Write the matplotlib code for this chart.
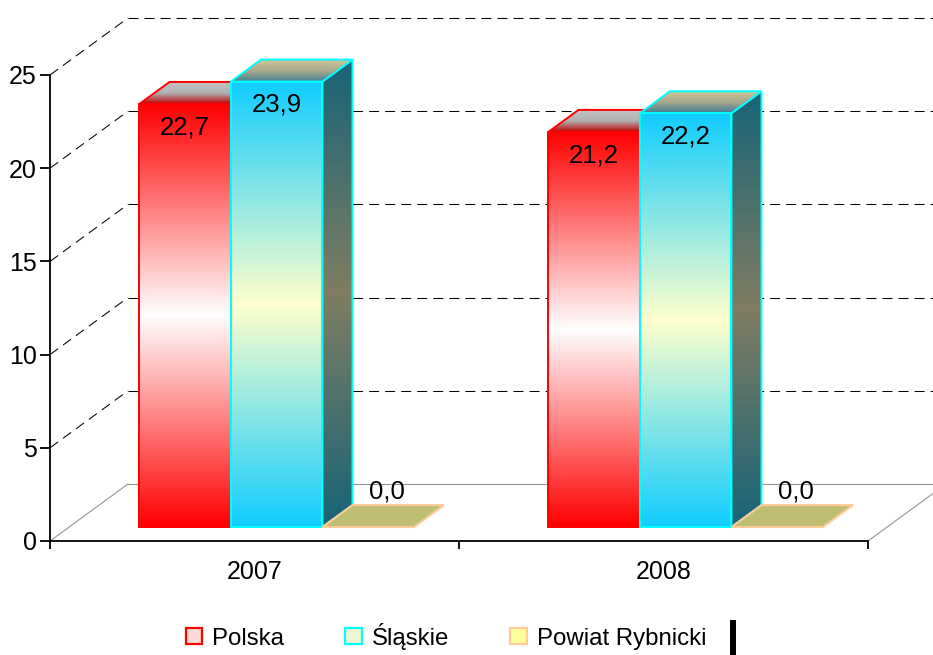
import numpy as np
import matplotlib
matplotlib.use("Agg")
import matplotlib.pyplot as plt
from matplotlib.patches import Polygon, Patch
from matplotlib.colors import LinearSegmentedColormap
from matplotlib.lines import Line2D

# ---------------- data ----------------
categories = ["2007", "2008"]
series_names = ["Polska", "Śląskie", "Powiat Rybnicki"]
polska = [22.7, 21.2]
slaskie = [23.9, 22.2]
powiat = [0.0, 0.0]
yticks = [0, 5, 10, 15, 20, 25]

def fmt(v):
    return f"{v:.1f}".replace(".", ",")

plt.rcParams["font.family"] = ["Liberation Sans", "DejaVu Sans"]

# ---------------- figure / scales ----------------
W, H = 933, 655
fig = plt.figure(figsize=(W / 100, H / 100), dpi=100)
ax = fig.add_axes([0, 0, 1, 1])
X0, PX_CAT = 50, 409.0      # pixel of category axis origin, pixels per category
Y0, PX_UNIT = 541, 18.64    # pixel of value 0, pixels per value unit
XL = (-X0 / PX_CAT, (W - X0) / PX_CAT)
YL = (-(H - Y0) / PX_UNIT, Y0 / PX_UNIT)

# 3D depth vector (full depth of the wall) in data units
DX = 78 / PX_CAT
DY = 57 / PX_UNIT
T0, T1 = 0.245, 0.63          # depth of bar front / back faces
BW = 0.2237                   # bar width (category units)
GROUP_OFF = 0.172             # offset of first bar from category start
ncat = len(categories)
ymax = yticks[-1]

# ---------------- walls / grid ----------------
dash = (0, (9.6, 5.8))
for v in yticks[1:]:
    ax.plot([0, DX], [v, v + DY], color="black", lw=0.75, ls=dash, zorder=1)
    ax.plot([DX, ncat + DX], [v + DY, v + DY], color="black", lw=0.75, ls=dash, zorder=1)
# floor outline
floor_c = "#969696"
ax.plot([0, DX], [0, DY], color=floor_c, lw=0.8, zorder=1)
ax.plot([DX, ncat + DX], [DY, DY], color=floor_c, lw=0.8, zorder=1)
ax.plot([ncat, ncat + DX], [0, DY], color=floor_c, lw=0.8, zorder=1)


def gradient_poly(verts, colors, z, edge, lw):
    verts = np.asarray(verts, dtype=float)
    xmin, ymin = verts.min(0)
    xmax, ymax_ = verts.max(0)
    cmap = LinearSegmentedColormap.from_list("g", colors)
    grad = np.linspace(0, 1, 256).reshape(-1, 1)
    im = ax.imshow(grad, cmap=cmap, extent=(xmin, xmax, ymin, ymax_), origin="upper",
                   aspect="auto", zorder=z, interpolation="bilinear")
    clip = Polygon(verts, closed=True, transform=ax.transData, facecolor="none", edgecolor="none")
    im.set_clip_path(clip)
    ax.add_patch(Polygon(verts, closed=True, facecolor="none", edgecolor=edge, lw=lw,
                         zorder=z + 0.05, joinstyle="miter"))


def bar3d(xl, v, z, front_cols, top_cols, side_cols, edge, lw=1.4, flat_face=None):
    fx0, fx1 = xl + T0 * DX, xl + BW + T0 * DX
    bx0, bx1 = xl + T1 * DX, xl + BW + T1 * DX
    fy, by = T0 * DY, T1 * DY
    top = [(fx0, v + fy), (fx1, v + fy), (bx1, v + by), (bx0, v + by)]
    if v <= 0:
        ax.add_patch(Polygon(top, closed=True, facecolor=flat_face, edgecolor=edge, lw=1.5,
                             zorder=z, joinstyle="miter"))
        return
    front = [(fx0, fy), (fx1, fy), (fx1, v + fy), (fx0, v + fy)]
    side = [(fx1, fy), (bx1, by), (bx1, v + by), (fx1, v + fy)]
    gradient_poly(side, side_cols, z, edge, lw)
    gradient_poly(top, top_cols, z + 0.2, edge, lw)
    gradient_poly(front, front_cols, z + 0.4, edge, lw)


label_kw = dict(fontsize=18.5, ha="center", va="center", color="black", zorder=20)
for i in range(ncat):
    base = i + GROUP_OFF
    # Polska
    x = base
    bar3d(x, polska[i], 3, ["#ff0000", "#ffffff", "#ff0000"], ["#c4c4c4", "#b0b0b0", "#c00000"],
          ["#8a0000", "#c06060", "#8a0000"], "#ff0000")
    ax.text(x + BW / 2 + T0 * DX, polska[i] + T0 * DY - 1.25, fmt(polska[i]), **label_kw)
    # Śląskie
    x = base + BW
    bar3d(x, slaskie[i], 5, ["#10cdff", "#ffffcc", "#10cdff"], ["#cfc79c", "#a8a88c", "#3f7f98"],
          ["#176478", "#807d62", "#176478"], "#00ffff")
    ax.text(x + BW / 2 + T0 * DX, slaskie[i] + T0 * DY - 1.25, fmt(slaskie[i]), **label_kw)
    # Powiat Rybnicki
    x = base + 2 * BW
    bar3d(x, powiat[i], 7, None, None, None, "#ffcc99", flat_face="#bfbf73")
    ax.text(x + BW / 2 + (T0 + T1) / 2 * DX + 0.01, powiat[i] + T0 * DY + 1.93, fmt(powiat[i]), **label_kw)

# ---------------- axes ----------------
for s in ("top", "right"):
    ax.spines[s].set_visible(False)
ax.spines["left"].set_position(("data", 0))
ax.spines["bottom"].set_position(("data", 0))
ax.spines["left"].set_bounds(0, ymax)
ax.spines["bottom"].set_bounds(0, ncat)
for s in ("left", "bottom"):
    ax.spines[s].set_linewidth(1.3)
    ax.spines[s].set_zorder(10)
ax.set_yticks(yticks)
ax.set_yticklabels([str(t) for t in yticks])
ax.set_xticks(np.arange(ncat + 1))
ax.set_xticklabels([""] * (ncat + 1))
ax.set_xticks(np.arange(ncat) + 0.5, minor=True)
ax.set_xticklabels(categories, minor=True)
ax.tick_params(axis="y", direction="out", length=7, width=1.3, pad=2.5, labelsize=18)
ax.tick_params(axis="x", which="major", direction="out", length=6, width=1.3)
ax.tick_params(axis="x", which="minor", length=0, pad=13.5, labelsize=18)
ax.set_xlim(*XL)
ax.set_ylim(*YL)
ax.patch.set_facecolor("white")

# ---------------- legend ----------------
handles = [
    Patch(facecolor="#ffd8d8", edgecolor="#ff0000", lw=1.6),
    Patch(facecolor="#eef8d0", edgecolor="#00ffff", lw=1.6),
    Patch(facecolor="#ffff99", edgecolor="#ffcc99", lw=1.6),
]
ax.legend(handles, series_names, loc="center", bbox_to_anchor=(0.478, 0.029),
          bbox_transform=fig.transFigure, ncol=3, frameon=False, fontsize=17.3,
          handlelength=0.7, handleheight=0.66, handletextpad=0.4, columnspacing=2.55)

# cursor-like black bar at the bottom right of the legend
fig.add_artist(Line2D([733 / W, 733 / W], [0, 35 / H], transform=fig.transFigure,
                      color="black", lw=4.3, solid_capstyle="butt"))

fig.savefig("out.png", dpi=100)
